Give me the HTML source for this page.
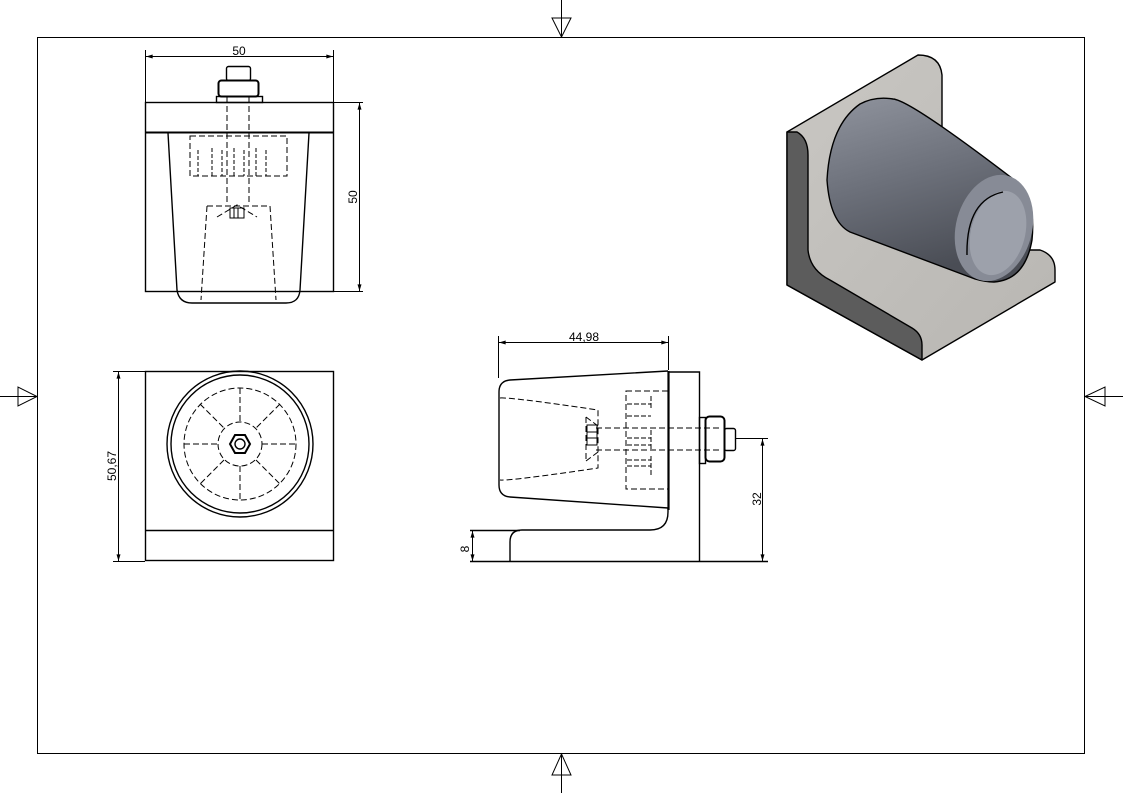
<!DOCTYPE html>
<html><head><meta charset="utf-8"><style>
html,body{margin:0;padding:0;background:#fff;}
svg{display:block;}
text{font-family:"Liberation Sans",sans-serif;font-size:12px;fill:#000;}
</style></head><body>
<svg width="1123" height="793" viewBox="0 0 1123 793" xmlns="http://www.w3.org/2000/svg">
<defs>
<marker id="a" viewBox="0 0 10 6" refX="10" refY="3" markerWidth="8" markerHeight="4" orient="auto-start-reverse"><path d="M0,0L10,3L0,6z" fill="#000"/></marker>
<linearGradient id="cyl" x1="0" y1="0" x2="0.3" y2="1"><stop offset="0" stop-color="#8f939d"/><stop offset="0.5" stop-color="#6c707a"/><stop offset="1" stop-color="#4a4d55"/></linearGradient>
<linearGradient id="plate" x1="0" y1="0" x2="1" y2="1"><stop offset="0" stop-color="#c9c7c3"/><stop offset="1" stop-color="#b8b6b2"/></linearGradient>
</defs>
<g fill="none" stroke="#000" stroke-width="1">
<rect x="37.5" y="37.5" width="1047" height="716"/>
<line x1="561.5" y1="0" x2="561.5" y2="37"/><path d="M552,18L571,18L561.5,37z"/>
<line x1="561.5" y1="754" x2="561.5" y2="793"/><path d="M552,775L571,775L561.5,754z"/>
<line x1="0" y1="396.5" x2="37" y2="396.5"/><path d="M18,387L18,406L37,396.5z"/>
<line x1="1085" y1="396.5" x2="1123" y2="396.5"/><path d="M1105,387L1105,406L1085,396.5z"/>

<g stroke-width="1.4">
<rect x="145.5" y="102.5" width="188" height="189"/>
<line x1="145" y1="132.5" x2="333" y2="132.5" stroke-width="2"/>
<path d="M168,133 L177,290 Q179,303 192,303 L286,303 Q299,303 300,290 L309,133"/>
<rect x="216.5" y="96.5" width="46" height="6"/>
<rect x="218.5" y="80.5" width="40" height="16" rx="3" stroke-width="2"/>
<rect x="226.5" y="66.5" width="24" height="14" rx="2"/>
</g>
<g stroke-dasharray="6,3">
<line x1="227" y1="97" x2="227" y2="205"/><line x1="249" y1="97" x2="249" y2="205"/>
<rect x="190" y="136" width="97" height="40"/>
<path d="M207,206 L270,206 L276,300 M207,206 L201,300"/>
<path d="M217,217 L237,205 L257,217"/>
</g>
<path d="M198,150v26M212,148v28M222,150v26M234,148v28M244,150v26M256,148v28M266,150v26" stroke-dasharray="4,2"/>
<path d="M230,208h14v10h-14z M234,208v10 M238,208v10"/>
<line x1="145.5" y1="50" x2="145.5" y2="102"/><line x1="333.5" y1="50" x2="333.5" y2="102"/>
<line x1="146" y1="56.5" x2="333" y2="56.5" marker-start="url(#a)" marker-end="url(#a)"/>
<line x1="333" y1="102.5" x2="363" y2="102.5"/><line x1="333" y1="291.5" x2="363" y2="291.5"/>
<line x1="359.5" y1="103" x2="359.5" y2="291" marker-start="url(#a)" marker-end="url(#a)"/>

<g stroke-width="1.4">
<rect x="145.5" y="371.5" width="188" height="189"/>
<line x1="145" y1="530.5" x2="333" y2="530.5"/>
<circle cx="240" cy="444" r="73"/>
<circle cx="240" cy="444" r="69"/>
<polygon points="250,444 245,453 235,453 230,444 235,435 245,435" stroke-width="2"/>
<circle cx="240" cy="444" r="5"/>
</g>
<g stroke-dasharray="6,3">
<circle cx="240" cy="444" r="56"/>
<circle cx="240" cy="444" r="22"/>
<path d="M240,388v34M240,466v34M184,444h34M262,444h34M200,404l24,24M256,460l24,24M280,404l-24,24M224,460l-24,24"/>
</g>
<line x1="113" y1="371.5" x2="145" y2="371.5"/><line x1="113" y1="561.5" x2="145" y2="561.5"/>
<line x1="118.5" y1="372" x2="118.5" y2="561" marker-start="url(#a)" marker-end="url(#a)"/>

<g stroke-width="1.4">
<path d="M668,371 L510,380 Q499,381 499,392 L499,485 Q499,496 510,497 L668,508"/>
<line x1="668.5" y1="371" x2="668.5" y2="510" stroke-width="2.2"/>
<path d="M668,372 Q670,372 688,372 L699.5,372 L699.5,561"/>
<path d="M668,508 L668,512 Q668,530 650,530 L522,530 Q510,530 510,542 L510,561"/>
<line x1="470" y1="561.5" x2="768" y2="561.5" stroke-width="1.5"/>
<line x1="470" y1="530.5" x2="520" y2="530.5"/>
<rect x="699.5" y="417.5" width="6" height="46"/>
<rect x="705.5" y="416.5" width="19" height="45" rx="4" stroke-width="2"/>
<rect x="724.5" y="428.5" width="11" height="22" rx="2"/>
</g>
<g stroke-dasharray="6,3">
<path d="M500,398 Q510,397 598,410 L598,468 Q510,481 500,480"/>
<line x1="596" y1="428" x2="720" y2="428"/><line x1="596" y1="450" x2="720" y2="450"/>
<rect x="626" y="391" width="42" height="98"/>
<path d="M586,417 L598,426 M586,461 L598,452 M586,417v44"/>
</g>
<path d="M627,404h24M627,416h24M627,438h24M627,445h24M627,460h24M627,466h24M651,396v14M651,430v20M651,456v20" stroke-dasharray="5,2"/>
<path d="M587,425h10v20h-10z M587,432h10 M587,438h10"/>
<line x1="498.5" y1="336" x2="498.5" y2="378"/><line x1="668.5" y1="336" x2="668.5" y2="370"/>
<line x1="499" y1="342.5" x2="668" y2="342.5" marker-start="url(#a)" marker-end="url(#a)"/>
<line x1="735" y1="438.5" x2="768" y2="438.5"/>
<line x1="762.5" y1="439" x2="762.5" y2="561" marker-start="url(#a)" marker-end="url(#a)"/>
<line x1="472.5" y1="531" x2="472.5" y2="561" marker-start="url(#a)" marker-end="url(#a)"/>
</g>
<text x="239" y="55" text-anchor="middle">50</text>
<text transform="translate(357,197) rotate(-90)" text-anchor="middle">50</text>
<text transform="translate(116,466) rotate(-90)" text-anchor="middle">50,67</text>
<text x="584" y="341" text-anchor="middle">44,98</text>
<text transform="translate(761,499) rotate(-90)" text-anchor="middle">32</text>
<text transform="translate(469,549) rotate(-90)" text-anchor="middle">8</text>

<g stroke="#000" stroke-width="1.4" stroke-linejoin="round">
<path d="M787,132 L918,55 Q940,55 942,75 L942,250 L1040,250 Q1055,255 1055,270 L1055,282 L922,360 L787,285 Z" fill="url(#plate)"/>
<path d="M787,132 L797,132 Q808,138 808,155 L808,250 Q810,270 830,280 L912,328 Q922,334 922,345 L922,360 L787,285 Z" fill="#5c5c5c"/>
<path d="M893,99 Q910,100 1017,182 Q1036,200 1032,240 Q1025,280 994,282 Q985,282 975,279 L850,232 Q830,222 827,180 Q830,125 860,104 Q875,96 893,99 Z" fill="url(#cyl)"/>
<ellipse cx="994" cy="228" rx="38" ry="54" transform="rotate(15 994 228)" fill="#878b96" stroke="none"/>
<ellipse cx="998" cy="233" rx="27" ry="43" transform="rotate(15 998 233)" fill="#9da1ab" stroke="none"/>
<path d="M967,255 Q966,200 1003,192" fill="none"/>
</g>
</svg>
</body></html>
